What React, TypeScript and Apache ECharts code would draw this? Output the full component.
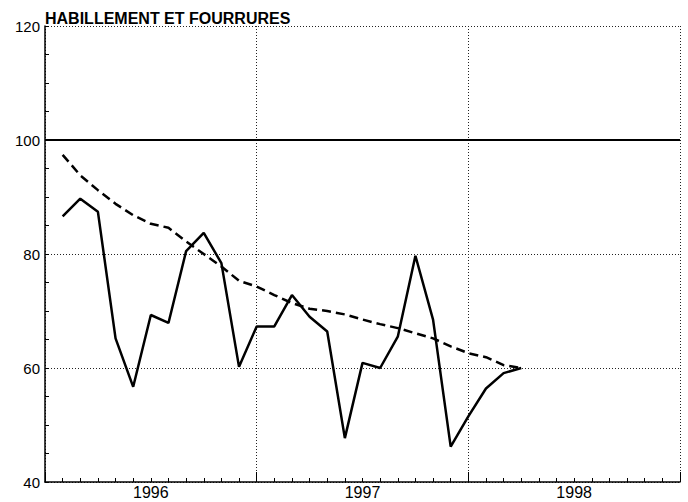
import React, { useEffect, useRef } from "react";
import * as echarts from "echarts";

// month index: 0 = start of Jan 1996, 12 = start of 1997, 24 = start of 1998, 36 = end of 1998
const months = [1, 2, 3, 4, 5, 6, 7, 8, 9, 10, 11, 12, 13, 14, 15, 16, 17, 18, 19, 20, 21, 22, 23, 24, 25, 26, 27];
const actual = [86.6, 89.7, 87.4, 65.2, 56.7, 69.3, 67.9, 80.5, 83.7, 78.4, 60.2, 67.3, 67.3, 72.8, 69.0, 66.4, 47.7, 60.9, 60.0, 65.5, 79.7, 68.5, 46.2, 51.5, 56.4, 59.1, 60.0];
const trend = [97.4, 93.8, 91.2, 88.8, 86.8, 85.3, 84.6, 82.2, 80.0, 77.8, 75.3, 74.3, 72.8, 71.4, 70.4, 70.0, 69.4, 68.5, 67.7, 67.0, 66.1, 65.2, 63.8, 62.6, 61.9, 60.5, 60.0];
const yearLabels: Record<number, string> = { 6: "1996", 18: "1997", 30: "1998" };
const titleText = "HABILLEMENT ET FOURRURES";
const referenceLevel = 100;

const FONT = "Liberation Sans";

export default function App() {
  const ref = useRef<HTMLDivElement>(null);
  useEffect(() => {
    if (!ref.current) return;
    const chart = echarts.init(ref.current, null, { renderer: "svg" });
    const dotted = { color: "#222", width: 1, type: [1, 2] as number[] };
    chart.setOption({
      animation: false,
      backgroundColor: "#fff",
      title: {
        text: titleText,
        left: 45,
        top: 10,
        padding: 0,
        textStyle: { fontFamily: FONT, fontSize: 16, fontWeight: "bold", color: "#000" },
      },
      grid: { left: 45, right: 8, top: 26, bottom: 20, containLabel: false, outerBoundsMode: "none" },
      xAxis: [
        {
          type: "value",
          min: 0,
          max: 36,
          interval: 12,
          axisLine: { show: true, lineStyle: { color: "#000", width: 1.5 } },
          axisTick: { show: true, inside: true, length: 10, lineStyle: { color: "#000", width: 1 } },
          minorTick: { show: true, splitNumber: 12, length: 4, lineStyle: { color: "#000", width: 1 } },
          axisLabel: { show: false },
          splitLine: { show: true, lineStyle: dotted },
        },
        {
          type: "value",
          min: 0,
          max: 36,
          interval: 6,
          position: "bottom",
          axisLine: { show: false },
          axisTick: { show: false },
          splitLine: { show: false },
          axisLabel: {
            show: true,
            margin: 2,
            fontFamily: FONT,
            fontSize: 16,
            color: "#000",
            formatter: (v: number) => yearLabels[v] || "",
          },
        },
      ],
      yAxis: {
        type: "value",
        min: 40,
        max: 120,
        interval: 20,
        axisLine: { show: true, lineStyle: { color: "#000", width: 1.5 } },
        axisTick: { show: true, inside: true, length: 4, lineStyle: { color: "#000", width: 1 } },
        minorTick: { show: true, splitNumber: 4, length: 4, lineStyle: { color: "#000", width: 1 } },
        axisLabel: { margin: 5, fontFamily: FONT, fontSize: 15, color: "#000" },
        splitLine: { show: true, lineStyle: dotted },
      },
      series: [
        {
          type: "line",
          xAxisIndex: 0,
          data: months.map((m, i) => [m, trend[i]]),
          showSymbol: false,
          symbol: "none",
          lineStyle: { color: "#000", width: 2.5, type: [9, 5] },
          z: 3,
        },
        {
          type: "line",
          xAxisIndex: 0,
          data: months.map((m, i) => [m, actual[i]]),
          showSymbol: false,
          symbol: "none",
          lineStyle: { color: "#000", width: 2.5 },
          z: 4,
          markLine: {
            silent: true,
            symbol: "none",
            label: { show: false },
            lineStyle: { color: "#000", width: 2, type: "solid" },
            data: [{ yAxis: referenceLevel }],
          },
        },
      ],
    });
    return () => chart.dispose();
  }, []);
  return <div ref={ref} style={{ position: "fixed", left: 0, top: 0, width: 688, height: 502 }} />;
}
